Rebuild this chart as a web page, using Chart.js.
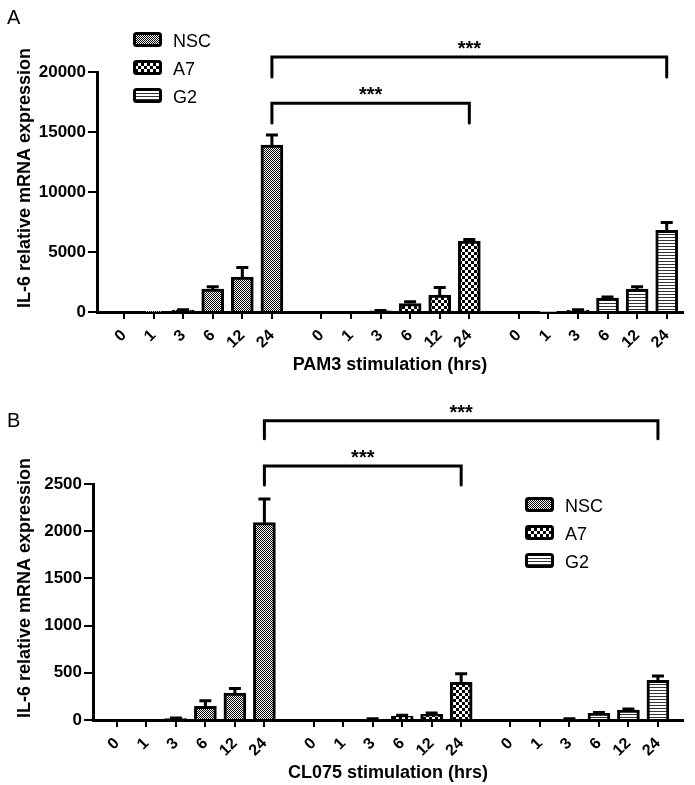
<!DOCTYPE html>
<html>
<head>
<meta charset="utf-8">
<script src="https://cdn.jsdelivr.net/npm/chart.js@4.4.1/dist/chart.umd.min.js"></script>
<style>
  body { margin: 0; background: #fff; }
  canvas { display: block; }
</style>
</head>
<body>
<canvas id="chartA" width="695" height="390"></canvas>
<canvas id="chartB" width="695" height="395"></canvas>
<script>
// Data
const timeLabels = ['0', '1', '3', '6', '12', '24'];
const cellLines = ['NSC', 'A7', 'G2'];

// Panel A - PAM3
const pam3NSC = [0, 20, 150, 1900, 2900, 13900];
const pam3NSCErr = [0, 0, 30, 200, 800, 850];
const pam3A7 = [0, 0, 100, 700, 1400, 5900];
const pam3A7Err = [0, 0, 20, 150, 650, 150];
const pam3G2 = [0, 30, 150, 1150, 1900, 6800];
const pam3G2Err = [0, 0, 30, 100, 200, 650];
const pam3YTicks = [0, 5000, 10000, 15000, 20000];

// Panel B - CL075
const cl075NSC = [0, 0, 15, 145, 285, 2090];
const cl075NSCErr = [0, 0, 5, 60, 50, 250];
const cl075A7 = [0, 0, 10, 40, 60, 400];
const cl075A7Err = [0, 0, 3, 10, 15, 90];
const cl075G2 = [0, 0, 10, 70, 105, 420];
const cl075G2Err = [0, 0, 3, 10, 12, 45];
const cl075YTicks = [0, 500, 1000, 1500, 2000, 2500];

// significance brackets: bar index (0..17), top of bracket, bottom of legs
const pam3BracketFrom = [5, 5];
const pam3BracketTo = [11, 17];
const pam3BracketTop = [17400, 21250];
const pam3BracketLeg = [15750, 19580];
const cl075BracketFrom = [5, 5];
const cl075BracketTo = [11, 17];
const cl075BracketTop = [2690, 3170];
const cl075BracketLeg = [2490, 2980];
const bracketText = '***';

const FONT = "'Liberation Sans', Arial, sans-serif";
const GROUP_STEP = 6.67; // distance between the first bars of two groups

const barPos = (idx) => Math.floor(idx / 6) * GROUP_STEP + (idx % 6);

// Fill patterns
const makePattern = (w, h, paint) => {
  const c = document.createElement('canvas');
  c.width = w; c.height = h;
  const g = c.getContext('2d');
  g.fillStyle = '#fff';
  g.fillRect(0, 0, w, h);
  g.fillStyle = '#000';
  paint(g);
  return g.createPattern(c, 'repeat');
};
const patternNSC = makePattern(2, 2, g => { g.fillRect(0, 0, 1, 1); g.fillRect(1, 1, 1, 1); });
const patternA7 = makePattern(6, 6, g => { g.fillRect(0, 0, 3, 3); g.fillRect(3, 3, 3, 3); });
const patternG2 = makePattern(1, 3, g => { g.fillStyle = '#333'; g.fillRect(0, 0, 1, 1); });
const patterns = [patternNSC, patternA7, patternG2];

const buildChart = (canvasId, cfg) => {
  const ctx = document.getElementById(canvasId).getContext('2d');
  const canvasH = ctx.canvas.height;

  const datasets = cfg.values.map((vals, g) => ({
    label: cellLines[g],
    data: vals.map((v, i) => ({ x: barPos(g * 6 + i), y: v })),
    backgroundColor: patterns[g],
    borderColor: '#000',
    borderWidth: 3,
    barThickness: 22,
    grouped: false,
  }));

  const decor = {
    id: 'decor',
    afterDatasetsDraw(chart) {
      const c = chart.ctx, y = chart.scales.y;
      c.save();
      c.strokeStyle = '#000';
      c.lineWidth = 3;
      cfg.values.forEach((vals, g) => {
        chart.getDatasetMeta(g).data.forEach((bar, i) => {
          const e = cfg.errors[g][i];
          if (!e) return;
          const top = y.getPixelForValue(vals[i] + e);
          c.beginPath();
          c.moveTo(bar.x, bar.y);
          c.lineTo(bar.x, top);
          c.moveTo(bar.x - 6, top);
          c.lineTo(bar.x + 6, top);
          c.stroke();
        });
      });
      c.restore();
    },
    afterDraw(chart) {
      const c = chart.ctx, x = chart.scales.x, y = chart.scales.y, area = chart.chartArea;
      c.save();
      c.fillStyle = '#000';
      c.strokeStyle = '#000';

      // brackets
      c.lineWidth = 3;
      c.lineCap = 'round';
      cfg.bracketFrom.forEach((from, k) => {
        const x1 = x.getPixelForValue(barPos(from));
        const x2 = x.getPixelForValue(barPos(cfg.bracketTo[k]));
        const yt = y.getPixelForValue(cfg.bracketTop[k]);
        const yl = y.getPixelForValue(cfg.bracketLeg[k]);
        c.beginPath();
        c.moveTo(x1, yl);
        c.lineTo(x1, yt);
        c.lineTo(x2, yt);
        c.lineTo(x2, yl);
        c.stroke();
        c.font = 'bold 20px ' + FONT;
        c.textAlign = 'center';
        c.textBaseline = 'alphabetic';
        c.fillText(bracketText, (x1 + x2) / 2, yt - 2);
      });

      // legend
      c.lineWidth = 3;
      c.lineCap = 'butt';
      cellLines.forEach((name, g) => {
        const by = cfg.legendY + g * cfg.legendStep;
        c.beginPath();
        c.roundRect(cfg.legendX + 1.5, by + 1.5, 26, 12, 2);
        c.fillStyle = patterns[g];
        c.fill();
        c.stroke();
        c.fillStyle = '#000';
        c.font = '18px ' + FONT;
        c.textAlign = 'left';
        c.textBaseline = 'alphabetic';
        c.fillText(name, cfg.legendX + 40, by + 15);
      });

      // axis titles
      c.font = 'bold 18px ' + FONT;
      c.textAlign = 'center';
      c.textBaseline = 'middle';
      c.fillText(cfg.xTitle, (area.left + area.right) / 2, cfg.xTitleY);
      c.save();
      c.translate(25, (area.top + area.bottom) / 2 - 14);
      c.rotate(-Math.PI / 2);
      c.fillText(cfg.yTitle, 0, 0);
      c.restore();

      // panel letter
      c.font = '20px ' + FONT;
      c.textAlign = 'left';
      c.textBaseline = 'alphabetic';
      c.fillText(cfg.letter, 7, cfg.letterY);
      c.restore();
    },
  };

  return new Chart(ctx, {
    type: 'bar',
    data: { datasets },
    options: {
      responsive: false,
      animation: false,
      layout: { padding: { left: 0, top: cfg.top, right: 12, bottom: 0 } },
      plugins: { legend: { display: false }, tooltip: { enabled: false } },
      scales: {
        x: {
          type: 'linear',
          min: cfg.xMin,
          max: cfg.xMax,
          offset: false,
          grid: { offset: false, drawOnChartArea: false, color: '#000', lineWidth: 2, tickLength: 7 },
          border: { color: '#000', width: 3 },
          ticks: {
            autoSkip: false,
            minRotation: 45,
            maxRotation: 45,
            padding: 7,
            color: '#000',
            font: { family: FONT, size: 16, weight: 'bold' },
            callback: (value, index) => timeLabels[index % 6],
          },
          afterBuildTicks: (scale) => {
            scale.ticks = Array.from({ length: 18 }, (_, i) => ({ value: barPos(i) }));
          },
          afterFit: (scale) => { scale.height = canvasH - cfg.bottom; },
        },
        y: {
          min: 0,
          max: cfg.yTicks[cfg.yTicks.length - 1],
          grid: { drawOnChartArea: false, color: '#000', lineWidth: 2, tickLength: 9 },
          border: { color: '#000', width: 3 },
          ticks: {
            padding: 2,
            color: '#000',
            font: { family: FONT, size: 17, weight: 'bold' },
            callback: (value) => String(value),
          },
          afterBuildTicks: (scale) => {
            scale.ticks = cfg.yTicks.map(v => ({ value: v }));
          },
          afterFit: (scale) => { scale.width = cfg.axisX; },
        },
      },
    },
    plugins: [decor],
  });
};

buildChart('chartA', {
  values: [pam3NSC, pam3A7, pam3G2],
  errors: [pam3NSCErr, pam3A7Err, pam3G2Err],
  yTicks: pam3YTicks,
  bracketFrom: pam3BracketFrom, bracketTo: pam3BracketTo,
  bracketTop: pam3BracketTop, bracketLeg: pam3BracketLeg,
  top: 72, bottom: 312, axisX: 97,
  xMin: -0.91, xMax: 18.89,
  legendX: 133, legendY: 32, legendStep: 28,
  xTitle: 'PAM3 stimulation (hrs)', xTitleY: 365,
  yTitle: 'IL-6 relative mRNA expression',
  letter: 'A', letterY: 24,
});

buildChart('chartB', {
  values: [cl075NSC, cl075A7, cl075G2],
  errors: [cl075NSCErr, cl075A7Err, cl075G2Err],
  yTicks: cl075YTicks,
  bracketFrom: cl075BracketFrom, bracketTo: cl075BracketTo,
  bracketTop: cl075BracketTop, bracketLeg: cl075BracketLeg,
  top: 94, bottom: 330, axisX: 93,
  xMin: -0.81, xMax: 19.19,
  legendX: 525, legendY: 107, legendStep: 28,
  xTitle: 'CL075 stimulation (hrs)', xTitleY: 383,
  yTitle: 'IL-6 relative mRNA expression',
  letter: 'B', letterY: 37,
});
</script>
</body>
</html>
